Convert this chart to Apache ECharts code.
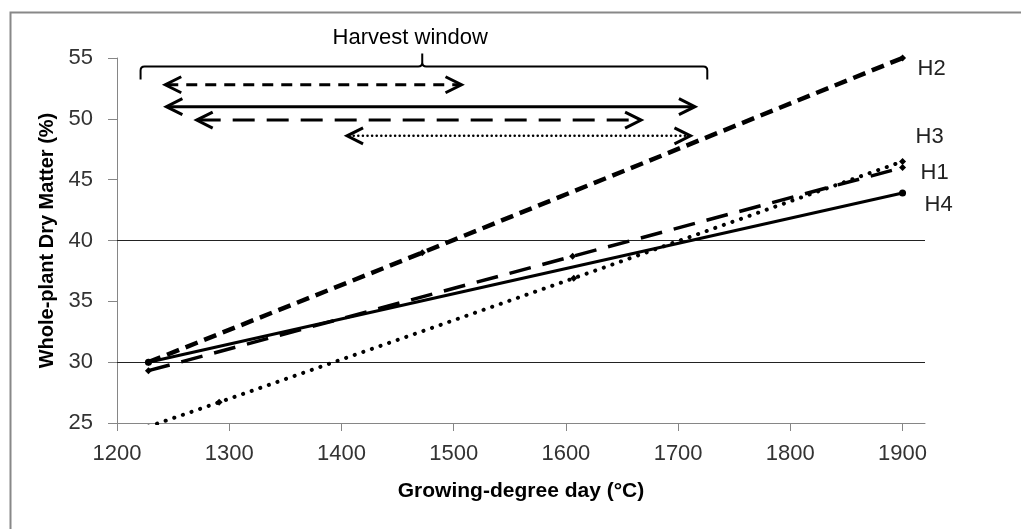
<!DOCTYPE html>
<html>
<head>
<meta charset="utf-8">
<script src="https://cdn.jsdelivr.net/npm/echarts@6/dist/echarts.min.js"></script>
<style>
  html, body { margin: 0; padding: 0; background: #fff; }
  #chart { width: 1021px; height: 529px; }
</style>
</head>
<body>
<div id="chart"></div>
<script>
// values
var xTicks = [1200, 1300, 1400, 1500, 1600, 1700, 1800, 1900];
var yTicks = [25, 30, 35, 40, 45, 50, 55];
var gridValues = [30, 40];

var seriesNames = ['H1', 'H2', 'H3', 'H4'];
var h1 = [[1228, 29.3], [1606, 38.7], [1900, 46.0]];
var h2 = [[1228, 30.0], [1472, 39.0], [1900, 55.0]];
var h3 = [[1228, 24.7], [1291, 26.7], [1607, 36.9], [1900, 46.5]];
var h4 = [[1228, 30.0], [1900, 43.9]];

// harvest window per hybrid: [from, to, level]
var windowHybrids = ['H2', 'H4', 'H1', 'H3'];
var windowRanges = [[1243, 1507, 52.8], [1244, 1715, 51.0], [1271, 1667, 49.9], [1405, 1711, 48.6]];
var braceSpan = [[1221, 1726, 1472, 54.3]];
var braceLabel = 'Harvest window';

var FONT = '"Liberation Sans", Arial, sans-serif';

var lineStyles = {
  H1: { color: '#000', width: 3.5, type: [22, 12] },
  H2: { color: '#000', width: 4.5, type: [13, 7] },
  H3: { color: '#000', width: 4, type: [0.1, 9], cap: 'round' },
  H4: { color: '#000', width: 3, type: 'solid' }
};
var arrowStyles = {
  H1: { lineWidth: 3, lineDash: [22, 12] },
  H2: { lineWidth: 3, lineDash: [11, 8] },
  H3: { lineWidth: 2.5, lineDash: [0.1, 4.5], lineCap: 'round' },
  H4: { lineWidth: 3 }
};
var labelOffsets = { H1: [10, 5], H2: [7, 11], H3: [5, -24], H4: [14, 12] };
var symbols = { H1: 'diamond', H2: 'diamond', H3: 'diamond', H4: 'circle' };

var myChart = echarts.init(document.getElementById('chart'));

function plain(v) {
  return String(v);
}

function renderArrow(params, api) {
  var a = api.coord([api.value(0), api.value(2)]);
  var b = api.coord([api.value(1), api.value(2)]);
  var st = arrowStyles[windowHybrids[params.dataIndex]];
  var hl = 16, hw = 8;
  var head = { stroke: '#000', fill: null, lineWidth: 3 };
  return {
    type: 'group',
    children: [
      { type: 'line', shape: { x1: a[0] + 2, y1: a[1], x2: b[0] - 2, y2: b[1] },
        style: { stroke: '#000', fill: null, lineWidth: st.lineWidth, lineDash: st.lineDash || null, lineCap: st.lineCap || 'butt' } },
      { type: 'polyline', shape: { points: [[a[0] + hl, a[1] - hw], [a[0], a[1]], [a[0] + hl, a[1] + hw]] }, style: head },
      { type: 'polyline', shape: { points: [[b[0] - hl, b[1] - hw], [b[0], b[1]], [b[0] - hl, b[1] + hw]] }, style: head }
    ]
  };
}

function renderBrace(params, api) {
  var l = api.coord([api.value(0), api.value(3)]);
  var r = api.coord([api.value(1), api.value(3)]);
  var c = api.coord([api.value(2), api.value(3)]);
  var y = l[1], d = 13, k = 4;
  var p = 'M' + l[0] + ',' + (y + d) + ' L' + l[0] + ',' + (y + k) +
    ' Q' + l[0] + ',' + y + ' ' + (l[0] + k) + ',' + y +
    ' L' + (c[0] - k) + ',' + y +
    ' Q' + c[0] + ',' + y + ' ' + c[0] + ',' + (y - k) +
    ' L' + c[0] + ',' + (y - d) +
    ' M' + c[0] + ',' + (y - k) +
    ' Q' + c[0] + ',' + y + ' ' + (c[0] + k) + ',' + y +
    ' L' + (r[0] - k) + ',' + y +
    ' Q' + r[0] + ',' + y + ' ' + r[0] + ',' + (y + k) +
    ' L' + r[0] + ',' + (y + d);
  return {
    type: 'group',
    children: [
      { type: 'path', shape: { pathData: p }, style: { stroke: '#000', fill: null, lineWidth: 2 } },
      { type: 'text', x: c[0] - 12, y: y - 29,
        style: { text: braceLabel, font: '22px ' + FONT, fill: '#000', align: 'center', verticalAlign: 'middle' } }
    ]
  };
}

var dataByName = { H1: h1, H2: h2, H3: h3, H4: h4 };
var series = seriesNames.map(function (name) {
  var s = {
    name: name,
    type: 'line',
    data: dataByName[name],
    symbol: symbols[name],
    symbolSize: 7,
    showSymbol: true,
    itemStyle: { color: '#000' },
    lineStyle: lineStyles[name],
    endLabel: {
      show: true,
      formatter: name,
      offset: labelOffsets[name],
      color: '#222',
      fontSize: 22,
      fontFamily: FONT
    },
    z: 3
  };
  if (name === 'H4') {
    s.markLine = {
      silent: true,
      symbol: 'none',
      label: { show: false },
      lineStyle: { color: '#222', width: 1.2, type: 'solid' },
      data: gridValues.map(function (v) { return { yAxis: v }; }),
      z: 1
    };
  }
  return s;
});

series.push({
  type: 'custom',
  renderItem: renderArrow,
  data: windowRanges,
  encode: { x: [0, 1], y: 2 },
  clip: false,
  silent: true,
  z: 4
});
series.push({
  type: 'custom',
  renderItem: renderBrace,
  data: braceSpan,
  encode: { x: [0, 1, 2], y: 3 },
  clip: false,
  silent: true,
  z: 4
});

var options = {
  animation: false,
  backgroundColor: '#fff',
  graphic: [{
    type: 'rect',
    left: 8, top: 10,
    shape: { width: 1100, height: 600 },
    style: { stroke: '#888', lineWidth: 2, fill: null },
    silent: true
  }],
  grid: { left: 117, right: 96, top: 58, bottom: 106 },
  xAxis: {
    type: 'value',
    min: 1200,
    max: 1920,
    name: 'Growing-degree day (°C)',
    nameLocation: 'middle',
    nameGap: 58,
    nameTextStyle: { fontFamily: FONT, fontSize: 21, fontWeight: 'bold', color: '#000' },
    axisLine: { show: true, lineStyle: { color: '#868686', width: 1 } },
    axisTick: { show: true, inside: false, length: 8, customValues: xTicks, lineStyle: { color: '#868686' } },
    axisLabel: { customValues: xTicks, formatter: plain, margin: 20, fontFamily: FONT, fontSize: 22, color: '#333' },
    splitLine: { show: false }
  },
  yAxis: {
    type: 'value',
    min: 25,
    max: 55,
    interval: 5,
    name: 'Whole-plant Dry Matter (%)',
    nameLocation: 'middle',
    nameGap: 56,
    nameTextStyle: { fontFamily: FONT, fontSize: 20, fontWeight: 'bold', color: '#000' },
    axisLine: { show: true, lineStyle: { color: '#868686', width: 1 } },
    axisTick: { show: true, inside: false, length: 9, customValues: yTicks, lineStyle: { color: '#868686' } },
    axisLabel: { customValues: yTicks, formatter: plain, margin: 24, fontFamily: FONT, fontSize: 22, color: '#333' },
    splitLine: { show: false }
  },
  series: series
};

myChart.setOption(options);
</script>
</body>
</html>
